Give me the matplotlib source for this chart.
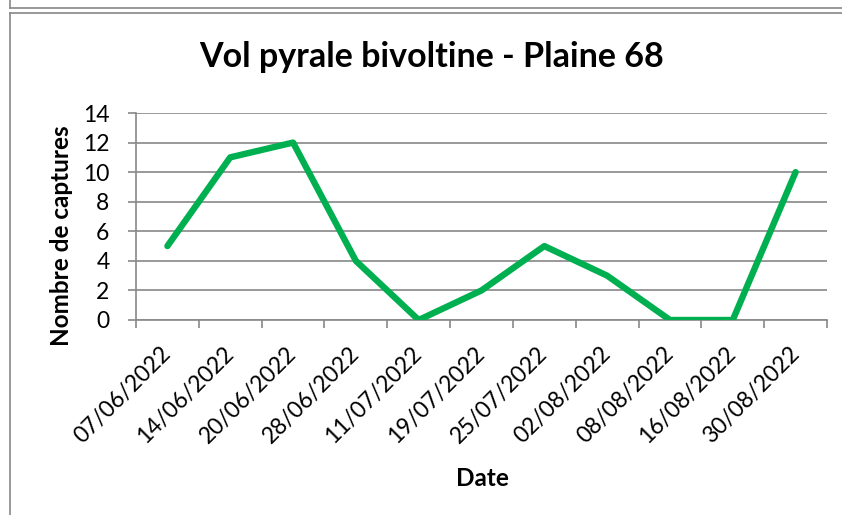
import matplotlib
matplotlib.use("Agg")
import matplotlib.pyplot as plt
from matplotlib.lines import Line2D

# data
dates = ["07/06/2022", "14/06/2022", "20/06/2022", "28/06/2022", "11/07/2022",
         "19/07/2022", "25/07/2022", "02/08/2022", "08/08/2022", "16/08/2022",
         "30/08/2022"]
captures = [5, 11, 12, 4, 0, 2, 5, 3, 0, 0, 10]
y_ticks = [0, 2, 4, 6, 8, 10, 12, 14]

title = "Vol pyrale bivoltine - Plaine 68"
x_label = "Date"
y_label = "Nombre de captures"

plt.rcParams['font.family'] = ['Lato', 'DejaVu Sans']

W, H = 842, 515
fig = plt.figure(figsize=(W / 100, H / 100), dpi=100)

grey = "#888888"

# chart frame (Excel chart area borders)
fig.add_artist(Line2D([10 / W, 1.0], [1 - 8 / H, 1 - 8 / H], color=grey, lw=1.2))
fig.add_artist(Line2D([10 / W, 10 / W], [1.0, 1 - 8 / H], color=grey, lw=1.2))
fig.add_artist(Line2D([10 / W, 1.0], [1 - 13 / H, 1 - 13 / H], color=grey, lw=1.2))
fig.add_artist(Line2D([10 / W, 10 / W], [0.0, 1 - 13 / H], color=grey, lw=1.2))

ax = fig.add_axes([136 / W, 1 - 320 / H, (827 - 136) / W, (320 - 113) / H])

x = list(range(len(dates)))
ax.plot(x, captures, color="#00B050", lw=4.6, solid_capstyle="round",
        solid_joinstyle="round", zorder=3)

ax.set_xlim(-0.5, len(dates) - 0.5)
ax.set_ylim(0, 14)
ax.set_yticks(y_ticks)
ax.set_yticklabels([str(v) for v in y_ticks], fontsize=16.5)
ax.grid(axis="y", color=grey, lw=1.2)
ax.set_axisbelow(True)

ax.set_xticks(x)
ax.set_xticklabels(dates, rotation=45, ha="right", va="center",
                   rotation_mode="anchor", fontsize=16.5)
ax.set_xticks([i - 0.5 for i in range(len(dates) + 1)], minor=True)
ax.tick_params(axis="x", which="major", length=0, pad=22)
ax.tick_params(axis="x", which="minor", length=6, width=1.2, color=grey)
ax.tick_params(axis="y", length=6, width=1.2, color=grey, pad=13)

for side in ["top", "right"]:
    ax.spines[side].set_visible(False)
for side in ["left", "bottom"]:
    ax.spines[side].set_color(grey)
    ax.spines[side].set_linewidth(1.2)

fig.text(432 / W, 1 - 57 / H, title, fontsize=24.5, fontweight="bold",
         ha="center", va="center")
fig.text(482 / W, 1 - 479 / H, x_label, fontsize=17.5, fontweight="bold",
         ha="center", va="center")
fig.text(62 / W, 1 - 236 / H, y_label, fontsize=17.5, fontweight="bold",
         ha="center", va="center", rotation=90)

fig.savefig("out.png", dpi=100)
